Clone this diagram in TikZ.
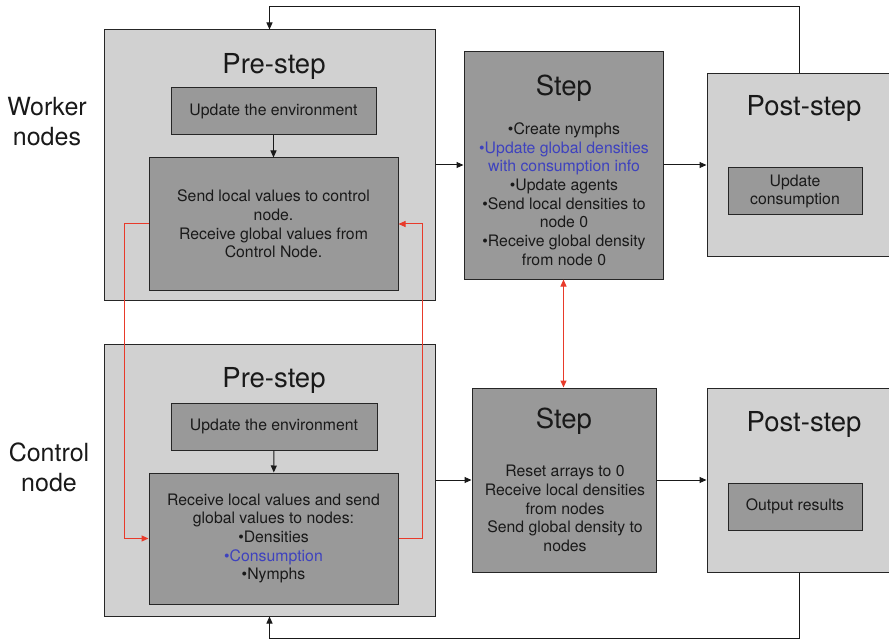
\documentclass[tikz,border=0pt]{standalone}
\usepackage{fontspec}
\setmainfont{TeX Gyre Heros}
\usetikzlibrary{arrows.meta}
\definecolor{panelgray}{RGB}{209,209,209}
\definecolor{boxgray}{RGB}{153,153,153}
\definecolor{infoblue}{RGB}{62,66,190}
\definecolor{msgred}{RGB}{232,58,42}
\tikzset{
	panel/.style={draw=black!85, fill=panelgray, line width=1pt, inner sep=0pt},
	task/.style={draw=black!85, fill=boxgray, line width=1pt, inner sep=0pt, align=center, text=black!90, font=\fontsize{15.8}{18.7}\selectfont},
	phase/.style={text=black!90, font=\fontsize{27.5}{30}\selectfont},
	body/.style={align=center, text=black!90, font=\fontsize{15.8}{18.7}\selectfont},
	side/.style={align=center, text=black!90, font=\fontsize{25}{30}\selectfont},
	flow/.style={line width=1pt, black!90, -{Triangle[length=7pt,width=6pt]}},
	msg/.style={line width=1pt, msgred, -{Triangle[length=7pt,width=6pt]}}
}
\begin{document}
\begin{tikzpicture}[x=1pt,y=-1pt]
			%%%%% START %%%%%
			\useasboundingbox (0,0) rectangle (889,639);
			
			% worker nodes
			\node[side] (wlabel) at (47,122) {Worker\\nodes};
			\node[panel, minimum width=331pt, minimum height=270pt] (wpre) at (269.5,165) {};
			\node[phase] (wpretitle) at (274,66) {Pre-step};
			\node[task, minimum width=205pt, minimum height=47pt] (wenv) at (273.5,111.5) {Update the environment};
			\node[task, minimum width=249pt, minimum height=132pt] (wsend) at (273.5,224) {Send local values to control\\node.\\Receive global values from\\Control Node.};
			
			\node[task, minimum width=199pt, minimum height=227pt] (wstep) at (563.5,165.5) {};
			\node[phase] (wsteptitle) at (564,88) {Step};
			\node[body] (wstepbody) at (564,194) {•Create nymphs\\\textcolor{infoblue}{•Update global densities}\\\textcolor{infoblue}{with consumption info}\\•Update agents\\•Send local densities to\\node 0\\•Receive global density\\from node 0};
			
			\node[panel, minimum width=184pt, minimum height=183pt] (wpost) at (799,165.5) {};
			\node[phase] (wposttitle) at (804,108) {Post-step};
			\node[task, minimum width=134pt, minimum height=47pt] (wcons) at (795,191.5) {Update\\consumption};
			
			% control node
			\node[side] (clabel) at (49,467) {Control\\node};
			\node[panel, minimum width=331pt, minimum height=272pt] (cpre) at (269.5,480) {};
			\node[phase] (cpretitle) at (274,380) {Pre-step};
			\node[task, minimum width=206pt, minimum height=47pt] (cenv) at (274,426.5) {Update the environment};
			\node[task, minimum width=249pt, minimum height=131pt] (crecv) at (273.5,538.5) {Receive local values and send\\global values to nodes:\\•Densities\\\textcolor{infoblue}{•Consumption}\\•Nymphs};
			
			\node[task, minimum width=184pt, minimum height=184pt] (cstep) at (564,480) {};
			\node[phase] (csteptitle) at (564,421) {Step};
			\node[body] (cstepbody) at (565,508.5) {Reset arrays to 0\\Receive local densities\\from nodes\\Send global density to\\nodes};
			
			\node[panel, minimum width=184pt, minimum height=184pt] (cpost) at (799,480) {};
			\node[phase] (cposttitle) at (804,424) {Post-step};
			\node[task, minimum width=134pt, minimum height=47pt] (cout) at (795,506.5) {Output results};
			
			% flow
			\draw[flow] (wenv) -- (wsend);
			\draw[flow] (wpre.east) -- (wpre.east -| wstep.west);
			\draw[flow] (wstep.east |- wpre.east) -- (wpre.east -| wpost.west);
			\draw[flow] (cenv) -- (crecv);
			\draw[flow] (cpre.east) -- (cstep.west);
			\draw[flow] (cstep.east) -- (cpost.west);
			\draw[flow] (wpost.north) -- ++(0,-67) -| (wpre.north);
			\draw[flow] (cpost.south) -- ++(0,66) -| (cpre.south);
			
			% messages
			\draw[msg] (wsend.west) -- ++(-24,0) |- (crecv.west);
			\draw[msg] (crecv.east) -- ++(24,0) |- (wsend.east);
			\draw[msg, {Triangle[length=7pt,width=6pt]}-{Triangle[length=7pt,width=6pt]}] (wstep.south) -- (wstep.south |- cstep.north);
			
			%%%%% END %%%%%
\end{tikzpicture}
\end{document}
